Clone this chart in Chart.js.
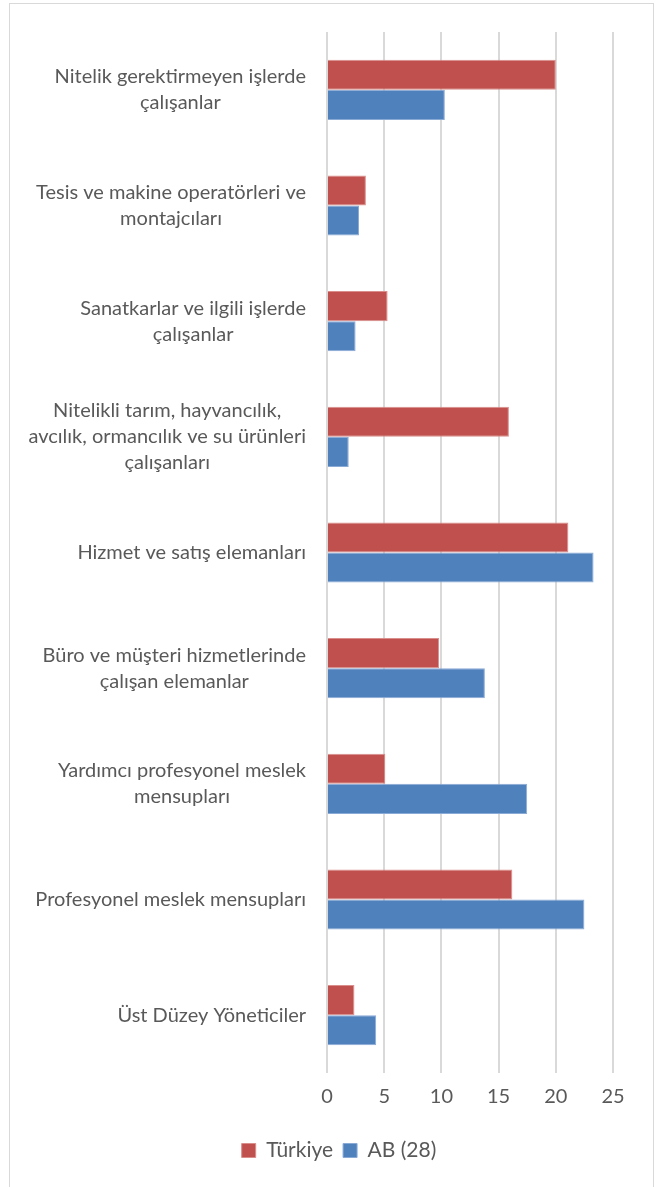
<!DOCTYPE html>
<html>
<head>
<meta charset="utf-8">
<script src="https://cdn.jsdelivr.net/npm/chart.js@4"></script>
<style>
    body { margin: 0; background: #fff; }
    #frame {
        position: absolute; left: 9px; top: 3px;
        width: 645px; height: 1200px;
        border: 1px solid #d9d9d9; box-sizing: border-box;
    }
    #wrap { position: absolute; left: 0; top: 0; width: 660px; height: 1187px; }
</style>
</head>
<body>
<div id="frame"></div>
<div id="wrap"><canvas id="chart" width="660" height="1187"></canvas></div>
<script>
// Occupation groups, top to bottom (each entry = wrapped lines)
const categories = [
    ['Nitelik gerektirmeyen işlerde', 'çalışanlar'],
    ['Tesis ve makine operatörleri ve', 'montajcıları'],
    ['Sanatkarlar ve ilgili işlerde', 'çalışanlar'],
    ['Nitelikli tarım, hayvancılık,', 'avcılık, ormancılık ve su ürünleri', 'çalışanları'],
    ['Hizmet ve satış elemanları'],
    ['Büro ve müşteri hizmetlerinde', 'çalışan elemanlar'],
    ['Yardımcı profesyonel meslek', 'mensupları'],
    ['Profesyonel meslek mensupları'],
    ['Üst Düzey Yöneticiler']
];

const turkiye = [20.0, 3.4, 5.3, 15.9, 21.1, 9.8, 5.1, 16.2, 2.4];
const ab28 = [10.3, 2.8, 2.5, 1.9, 23.3, 13.8, 17.5, 22.5, 4.3];

const xTicks = [0, 5, 10, 15, 20, 25];

const textColor = '#595959';

// draws the category labels: block right-aligned, lines centered in block
const categoryLabels = {
    id: 'categoryLabels',
    afterDraw(chart) {
        const ctx = chart.ctx;
        const yScale = chart.scales.y;
        const xScale = chart.scales.x;
        ctx.save();
        ctx.font = '20px Lato';
        ctx.fillStyle = textColor;
        ctx.textAlign = 'center';
        ctx.textBaseline = 'middle';
        categories.forEach((lines, i) => {
            const y = yScale.getPixelForValue(i);
            const blockW = Math.max(...lines.map(l => ctx.measureText(l).width));
            const cx = xScale.left - 21 - blockW / 2;
            lines.forEach((line, j) => {
                ctx.fillText(line, cx, y + (j - (lines.length - 1) / 2) * 26);
            });
        });
        ctx.restore();
    }
};

// empty axis: only reserves room so the legend stays centred on the canvas
const spacer = width => ({
    display: true,
    ticks: { display: false },
    grid: { display: false },
    border: { display: false },
    afterFit: scale => { scale.width = width; }
});

new Chart(document.getElementById('chart'), {
    type: 'bar',
    data: {
        labels: categories.map(c => c.join(' ')),
        datasets: [
            {
                label: 'Türkiye',
                data: turkiye,
                backgroundColor: '#C0504D',
                borderColor: '#D98E8C',
                borderWidth: 1
            },
            {
                label: 'AB (28)',
                data: ab28,
                backgroundColor: '#4F81BD',
                borderColor: '#8AAAD6',
                borderWidth: 1
            }
        ]
    },
    options: {
        indexAxis: 'y',
        responsive: false,
        animation: false,
        datasets: {
            bar: { categoryPercentage: 0.52, barPercentage: 1.0 }
        },
        layout: {
            padding: { left: 18, right: 0, top: 32, bottom: 16 }
        },
        scales: {
            y: { type: 'category', position: 'left', ...spacer(309) },
            yRight: { type: 'linear', position: 'right', ...spacer(47) },
            x: {
                min: 0,
                max: 25,
                afterBuildTicks: scale => { scale.ticks = xTicks.map(v => ({ value: v })); },
                afterFit: scale => { scale.height = 57; },
                grid: { color: '#d9d9d9', lineWidth: 2, drawTicks: false },
                border: { display: false },
                ticks: {
                    padding: 12,
                    color: textColor,
                    font: { family: 'Lato', size: 20 }
                }
            }
        },
        plugins: {
            legend: {
                position: 'bottom',
                labels: {
                    boxWidth: 14,
                    boxHeight: 14,
                    padding: 10,
                    color: textColor,
                    font: { family: 'Lato', size: 21 }
                }
            },
            tooltip: { enabled: false }
        }
    },
    plugins: [categoryLabels]
});
</script>
</body>
</html>
